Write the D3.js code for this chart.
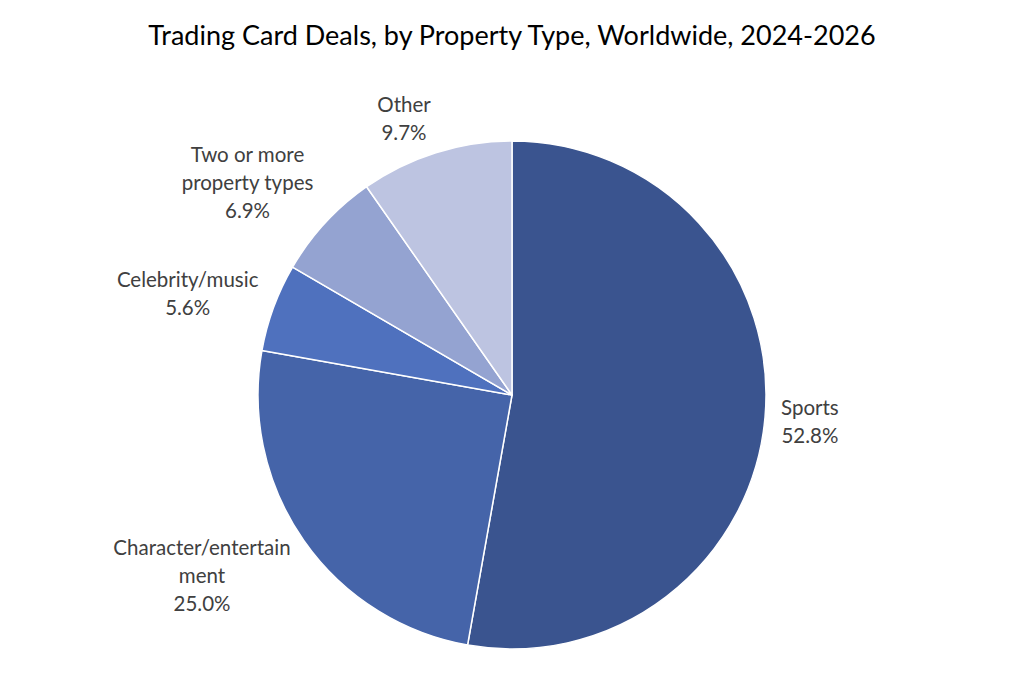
<!DOCTYPE html>
<html><head><meta charset="utf-8">
<script src="https://cdn.jsdelivr.net/npm/d3@7/dist/d3.min.js"></script>
<style>body{margin:0;background:#fff;}svg{display:block;}</style>
</head><body>
<svg id="chart" width="1024" height="682"></svg>
<script>
const categories = ["Sports", "Character/entertainment", "Celebrity/music", "Two or more property types", "Other"];
const labelLines = [["Sports"], ["Character/entertain", "ment"], ["Celebrity/music"], ["Two or more", "property types"], ["Other"]];
const values = [52.8, 25.0, 5.6, 6.9, 9.7];
const colors = ["#3A548F", "#4564A9", "#4F71BE", "#94A3D1", "#BDC4E1"];
const title = "Trading Card Deals, by Property Type, Worldwide, 2024-2026";

const svg = d3.select("#chart");
const W = 1024, H = 682;
const cx = 512, cy = 395, R = 254;
const font = "Lato, 'Open Sans', sans-serif";

svg.append("text").attr("x", W / 2).attr("y", 45).attr("text-anchor", "middle")
  .attr("font-family", font).attr("font-size", 27).attr("fill", "#000").text(title);

const data = categories.map((c, i) => ({ name: c, value: values[i], lines: labelLines[i], color: colors[i] }));
const pie = d3.pie().value(d => d.value).sort(null);
const arc = d3.arc().innerRadius(0).outerRadius(R);
const arcs = pie(data);

const g = svg.append("g").attr("transform", `translate(${cx},${cy})`);
g.selectAll("path").data(arcs).join("path")
  .attr("d", arc).attr("fill", d => d.data.color)
  .attr("stroke", "#fff").attr("stroke-width", 1.5).attr("stroke-linejoin", "round");

const clamp = v => Math.max(-1, Math.min(1, v));
const lineH = 28;
arcs.forEach(a => {
  const mid = (a.startAngle + a.endAngle) / 2;
  const s = Math.sin(mid), c = Math.cos(mid);
  const ax = (R + 16) * s, ay = -(R + 9) * c;
  const lines = a.data.lines.concat([a.data.value.toFixed(1) + "%"]);
  const t = g.append("text").attr("text-anchor", "middle")
    .attr("font-family", font).attr("font-size", 20.5).attr("fill", "#404040");
  lines.forEach((l, i) => t.append("tspan").attr("x", 0).attr("dy", i === 0 ? 0 : lineH).text(l));
  const bb = t.node().getBBox();
  const w = bb.width, h = (lines.length - 1) * lineH + 24;
  const bx = ax + clamp(s * 3.5) * w / 2;
  const by = ay - clamp(c * 1.3) * h / 2;
  const top = by - h / 2;
  t.attr("transform", `translate(${bx},${top + 20})`);
});
</script>
</body></html>
